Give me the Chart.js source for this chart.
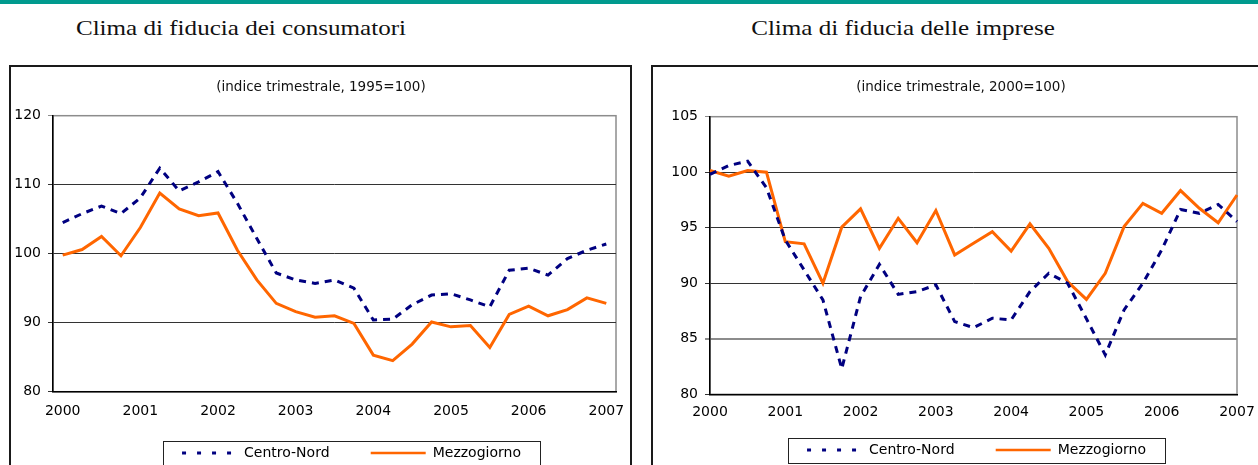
<!DOCTYPE html>
<html>
<head>
<meta charset="utf-8">
<script src="https://cdn.jsdelivr.net/npm/chart.js@4.4.0/dist/chart.umd.min.js"></script>
<style>
body { margin:0; width:1258px; height:465px; overflow:hidden; background:#fff; position:relative; }
.barra { position:absolute; left:0; top:0; width:1258px; height:4px; background:#009a8e; }
.titolo { position:absolute; top:17px; width:400px; font-family:'Liberation Serif'; font-size:22px; line-height:22px; text-align:center; color:#111; transform:scaleX(1.14); white-space:nowrap; }
.sotto { position:absolute; top:78px; width:300px; font-family:'DejaVu Sans'; font-size:13.5px; line-height:16px; text-align:center; color:#111; white-space:nowrap; }
.box { position:absolute; top:65px; border:2px solid #1a1a1a; height:420px; }
.box canvas { display:block; }
</style>
</head>
<body>
<div class="barra"></div>
<div class="titolo" style="left:41px">Clima di fiducia dei consumatori</div>
<div class="titolo" style="left:703px">Clima di fiducia delle imprese</div>
<div class="box" style="left:9px; width:619px"><canvas id="c1" width="619" height="403"></canvas></div>
<div class="box" style="left:651px; width:640px"><canvas id="c2" width="605" height="400"></canvas></div>
<div class="sotto" style="left:171px">(indice trimestrale, 1995=100)</div>
<div class="sotto" style="left:811px">(indice trimestrale, 2000=100)</div>
<script>
// trimestri 2000 T1 - 2007 T1
const trimestri = ['2000 T1','2000 T2','2000 T3','2000 T4','2001 T1','2001 T2','2001 T3','2001 T4',
    '2002 T1','2002 T2','2002 T3','2002 T4','2003 T1','2003 T2','2003 T3','2003 T4',
    '2004 T1','2004 T2','2004 T3','2004 T4','2005 T1','2005 T2','2005 T3','2005 T4',
    '2006 T1','2006 T2','2006 T3','2006 T4','2007 T1'];
const anni = ['2000','2001','2002','2003','2004','2005','2006','2007'];
const serie = ['Centro-Nord', 'Mezzogiorno'];

// consumatori (1995=100)
const consumatori_cn = [104.5,105.8,106.9,105.8,108.1,112.4,109.1,110.4,111.9,107.3,102.2,97.2,96.2,95.7,
    96.2,95.0,90.4,90.5,92.6,94.0,94.2,93.3,92.3,97.6,97.9,96.9,99.3,100.5,101.4];
const consumatori_mz = [99.8,100.6,102.5,99.7,103.8,108.8,106.5,105.5,105.9,100.5,96.2,92.8,91.6,90.8,
    91.0,89.9,85.3,84.5,86.9,90.1,89.4,89.6,86.4,91.2,92.4,91.0,91.9,93.6,92.8];

// imprese (2000=100)
const imprese_cn = [99.8,100.6,101.0,98.6,93.9,91.2,88.5,82.3,88.8,91.7,89.0,89.25,89.85,86.55,
    86.0,86.85,86.7,89.25,90.9,90.0,86.8,83.55,87.6,90.0,93.0,96.65,96.3,97.1,95.55];
const imprese_mz = [100.15,99.65,100.15,100.0,93.75,93.55,90.0,95.05,96.7,93.15,95.85,93.65,96.55,92.55,
    93.6,94.65,92.9,95.35,93.15,90.15,88.55,90.9,95.1,97.2,96.3,98.35,96.75,95.45,97.95];

Chart.defaults.font.family = 'DejaVu Sans';
Chart.defaults.color = '#111';

// cornice dell'area del grafico + riquadro della legenda
const cornice = {
    id: 'cornice',
    afterLayout(chart, args, opts) {
        // sposto la legenda dove sta nell'originale
        const lg = chart.legend;
        const d = opts.centroLegenda - (lg.left + lg.right) / 2;
        lg.left += d;
        lg.right += d;
    },
    beforeDraw(chart) {
        const ctx = chart.ctx;
        const a = chart.chartArea;
        ctx.save();
        ctx.strokeStyle = '#8c8c8c';
        ctx.lineWidth = 1.5;
        ctx.strokeRect(a.left, a.top, a.right - a.left, a.bottom - a.top);
        ctx.restore();
    },
    afterDraw(chart) {
        const hb = chart.legend.legendHitBoxes;
        if (!hb || !hb.length) return;
        const ctx = chart.ctx;
        const primo = hb[0], ultimo = hb[hb.length - 1];
        const centro = primo.top + primo.height / 2;
        const x0 = primo.left - 19, x1 = ultimo.left + ultimo.width + 19;
        ctx.save();
        ctx.strokeStyle = '#222';
        ctx.lineWidth = 1;
        ctx.strokeRect(Math.round(x0) + 0.5, Math.round(centro - 12) + 0.5, Math.round(x1 - x0), 25);
        ctx.restore();
    }
};

function crea_grafico(id, dati1, dati2, cfg) {
    const ctx = document.getElementById(id).getContext('2d');
    return new Chart(ctx, {
        type: 'line',
        plugins: [cornice],
        data: {
            labels: trimestri,
            datasets: [{
                label: serie[0],
                data: dati1,
                borderColor: '#000080',
                borderWidth: 3,
                borderDash: [7, 6],
                pointRadius: 0,
                tension: 0
            }, {
                label: serie[1],
                data: dati2,
                borderColor: '#ff6600',
                borderWidth: 3,
                pointRadius: 0,
                tension: 0
            }]
        },
        options: {
            responsive: false,
            animation: false,
            devicePixelRatio: 1,
            layout: { padding: { left: 0, right: cfg.padR, top: cfg.padT, bottom: 0 } },
            plugins: {
                legend: {
                    position: 'bottom',
                    labels: {
                        usePointStyle: true,
                        pointStyle: 'line',
                        pointStyleWidth: 55,
                        padding: 10,
                        color: '#000',
                        font: { size: 14 },
                        generateLabels: c => {
                            const voci = Chart.defaults.plugins.legend.labels.generateLabels(c);
                            // spazio tra le due voci come nell'originale
                            voci[0].text = voci[0].text + '       ';
                            voci[0].lineDash = [4, 11];
                            voci[1].lineWidth = 2.5;
                            return voci;
                        }
                    }
                },
                tooltip: { enabled: false },
                cornice: { centroLegenda: cfg.centroLeg }
            },
            scales: {
                x: {
                    offset: cfg.offset,
                    grid: { display: false, drawTicks: false },
                    border: { color: '#000', width: 1.5 },
                    ticks: {
                        autoSkip: false,
                        maxRotation: 0,
                        padding: cfg.xPad,
                        color: '#000',
                        font: { size: 14 },
                        callback: (v, i) => i % 4 === 0 ? anni[i / 4] : ''
                    },
                    afterFit: s => {
                        s.height = cfg.xH;
                        s.paddingLeft = 0;
                        s.paddingRight = 0;
                    }
                },
                y: {
                    min: cfg.min,
                    max: cfg.max,
                    ticks: { stepSize: cfg.passo, padding: 7, color: '#000', font: { size: 14 } },
                    grid: {
                        tickLength: 5,
                        color: c => (c.tick && (c.tick.value === cfg.max || cfg.grigie.includes(c.tick.value))) ? '#8c8c8c' : '#333',
                        lineWidth: c => (c.tick && cfg.grigie.includes(c.tick.value)) ? 2 : 1
                    },
                    border: { color: '#000', width: 1.5 },
                    afterFit: s => { s.width = cfg.yW; }
                }
            }
        }
    });
}

crea_grafico('c1', consumatori_cn, consumatori_mz, {
    min: 80, max: 120, passo: 10, grigie: [],
    offset: true, padR: 14, padT: 48.7, yW: 42, xH: 44.3, xPad: 11, centroLeg: 340.5
});
crea_grafico('c2', imprese_cn, imprese_mz, {
    min: 80, max: 105, passo: 5, grigie: [85],
    offset: false, padR: 21, padT: 49.7, yW: 57, xH: 38.7, xPad: 10, centroLeg: 323.5
});
</script>
</body>
</html>
